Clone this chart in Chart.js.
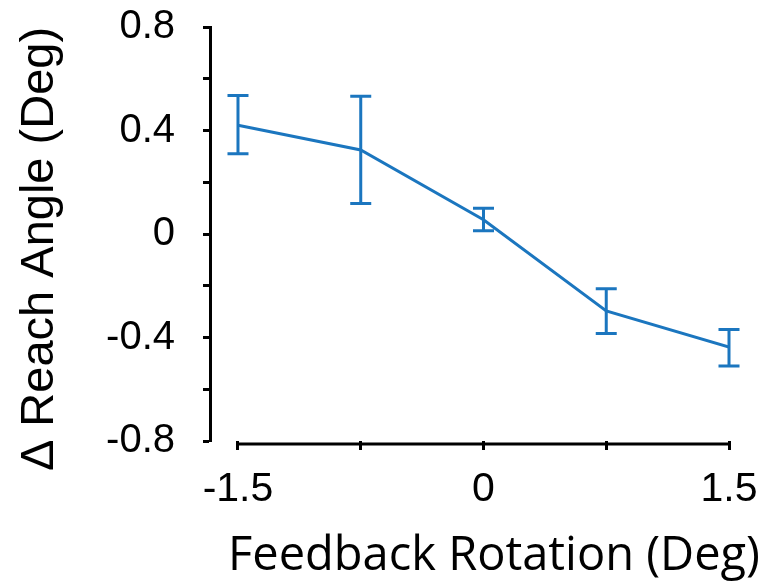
<!DOCTYPE html>
<html>
<head>
<meta charset="utf-8">
<script src="https://cdn.jsdelivr.net/npm/chart.js@4/dist/chart.umd.min.js"></script>
<style>
html,body{margin:0;padding:0;background:#fff;}
#wrap{width:764px;height:583px;position:relative;}
</style>
</head>
<body>
<div id="wrap"><canvas id="c" width="764" height="583"></canvas></div>
<script>
// ---- data ----
const rotations = [-1.5, -0.75, 0, 0.75, 1.5];
const reachMean = [0.42, 0.325, 0.055, -0.297, -0.437];
const errUpper  = [0.535, 0.532, 0.10, -0.212, -0.369];
const errLower  = [0.31, 0.118, 0.013, -0.385, -0.51];
const xTickValues = [-1.5, -0.75, 0, 0.75, 1.5];
const xTickLabels = ['-1.5', '', '0', '', '1.5'];
const yTickValues = [-0.8, -0.6, -0.4, -0.2, 0, 0.2, 0.4, 0.6, 0.8];
const yTickLabels = ['-0.8', '', '-0.4', '', '0', '', '0.4', '', '0.8'];
const xTitle = 'Feedback Rotation (Deg)';
const yTitle = '\u0394 Reach Angle (Deg)';

const BLUE = '#1b76bf';
const AXIS_W = 3;

const errorBars = {
  id: 'errorBars',
  afterDatasetsDraw(chart) {
    const {ctx, scales: {x, y}} = chart;
    ctx.save();
    ctx.strokeStyle = BLUE;
    ctx.lineWidth = 3;
    ctx.lineCap = 'butt';
    rotations.forEach((r, i) => {
      const px = x.getPixelForValue(r);
      const top = y.getPixelForValue(errUpper[i]);
      const bot = y.getPixelForValue(errLower[i]);
      ctx.beginPath();
      ctx.moveTo(px, top); ctx.lineTo(px, bot);
      ctx.moveTo(px - 10.5, top); ctx.lineTo(px + 10.5, top);
      ctx.moveTo(px - 10.5, bot); ctx.lineTo(px + 10.5, bot);
      ctx.stroke();
    });
    ctx.restore();
  }
};

const axesAndTitles = {
  id: 'axesAndTitles',
  afterDraw(chart) {
    const {ctx, scales: {x, y}, chartArea} = chart;
    ctx.save();
    ctx.strokeStyle = '#000';
    ctx.lineWidth = AXIS_W;
    ctx.beginPath();
    const yb = chartArea.bottom + 3;
    ctx.moveTo(x.getPixelForValue(xTickValues[0]) - 1.5, yb);
    ctx.lineTo(x.getPixelForValue(xTickValues[xTickValues.length - 1]) + 1.5, yb);
    ctx.stroke();
    ctx.fillStyle = '#000';
    ctx.font = '47px "Open Sans"';
    ctx.textAlign = 'center';
    ctx.textBaseline = 'alphabetic';
    ctx.fillText(xTitle, 494, 570);
    ctx.translate(40, 249);
    ctx.rotate(-Math.PI / 2);
    ctx.font = '47px "Liberation Sans"';
    ctx.textBaseline = 'middle';
    ctx.fillText(yTitle, 0, 0);
    ctx.restore();
  }
};

new Chart(document.getElementById('c'), {
  type: 'line',
  data: {
    datasets: [{
      data: rotations.map((r, i) => ({x: r, y: reachMean[i]})),
      borderColor: BLUE,
      borderWidth: 3,
      pointRadius: 0,
      fill: false,
      tension: 0
    }]
  },
  options: {
    responsive: false,
    animation: false,
    events: [],
    layout: {padding: {top: 27, right: 35, bottom: 0, left: 0}},
    plugins: {legend: {display: false}, tooltip: {enabled: false}},
    scales: {
      x: {
        type: 'linear',
        min: -1.671,
        max: 1.5,
        afterBuildTicks(s) { s.ticks = xTickValues.map(v => ({value: v})); },
        afterFit(s) { s.height = 142; s.paddingLeft = 0; s.paddingRight = 0; },
        border: {display: false},
        grid: {drawOnChartArea: false, drawTicks: true, tickLength: 9, tickWidth: AXIS_W, tickColor: '#000', offset: false},
        ticks: {
          autoSkip: false, maxRotation: 0, color: '#000',
          font: {family: 'Liberation Sans', size: 41},
          padding: 15,
          callback(v) { const i = xTickValues.indexOf(v); return i >= 0 ? xTickLabels[i] : ''; }
        }
      },
      y: {
        type: 'linear',
        min: -0.8,
        max: 0.8,
        afterBuildTicks(s) { s.ticks = yTickValues.map(v => ({value: v})); },
        afterFit(s) { s.width = 210; s.paddingTop = 0; s.paddingBottom = 0; },
        border: {display: true, color: '#000', width: AXIS_W},
        grid: {drawOnChartArea: false, drawTicks: true, tickLength: 7, tickWidth: AXIS_W, tickColor: '#000'},
        ticks: {
          autoSkip: false, color: '#000',
          font: {family: 'Liberation Sans', size: 40},
          padding: 28,
          callback(v) { const i = yTickValues.findIndex(t => Math.abs(t - v) < 1e-9); return i >= 0 ? yTickLabels[i] : ''; }
        }
      }
    }
  },
  plugins: [errorBars, axesAndTitles]
});
</script>
</body>
</html>
